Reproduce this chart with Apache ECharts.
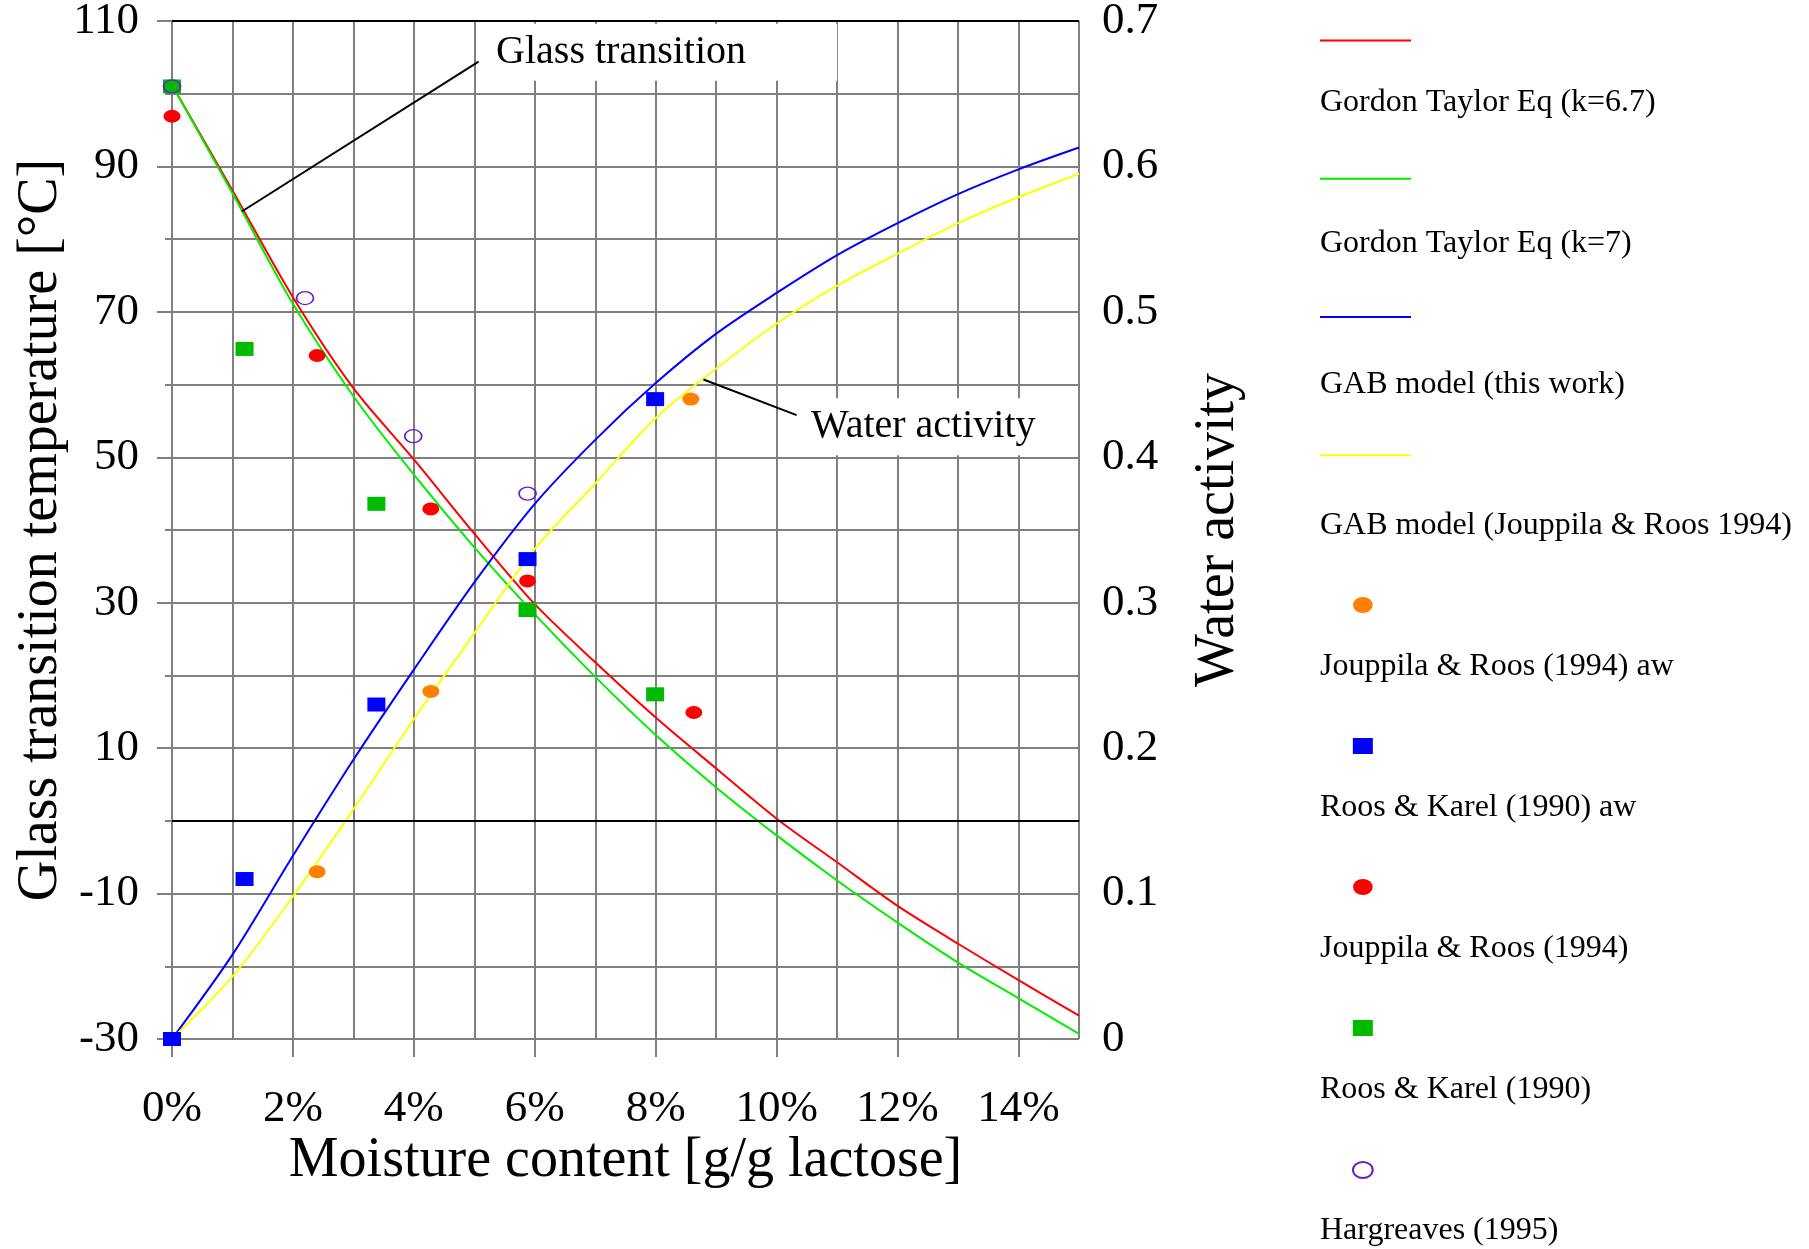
<!DOCTYPE html>
<html lang="en">
<head>
	<meta charset="UTF-8">
	<title>lactose glass transition</title>
	<style>
		body { margin: 0; background: #fff; }
	</style>
</head>
<body>
	<div id="main" style="width: 1809px;height: 1249px"></div>
	<script src="https://cdn.jsdelivr.net/npm/echarts@6.0.0/dist/echarts.min.js"></script>
	<script>
		// moisture content in % (g/g lactose)
		var moisture = [0, 1, 2, 3, 4, 5, 6, 7, 8, 9, 10, 11, 12, 13, 14, 15];
		// model curves
		var gtK67 = [101.2, 86.7, 72.0, 59.5, 49.7, 39.5, 29.8, 21.8, 14.2, 7.2, 0.3, -5.7, -11.7, -16.9, -21.9, -26.8];
		var gtK7 = [101.2, 86.3, 71.1, 58.4, 47.6, 37.6, 28.4, 19.8, 11.8, 4.6, -2.0, -8.2, -14.0, -19.5, -24.4, -29.3];
		var gabThisWork = [0, 0.058, 0.126, 0.192, 0.254, 0.314, 0.368, 0.412, 0.451, 0.485, 0.513, 0.539, 0.561, 0.581, 0.598, 0.613];
		var gabJouppila = [0, 0.043, 0.098, 0.158, 0.220, 0.279, 0.337, 0.382, 0.427, 0.461, 0.492, 0.518, 0.540, 0.561, 0.579, 0.595];

		// measured points
		var jrAwX = [2.40, 4.28, 8.58];
		var jrAwY = [0.115, 0.239, 0.44];
		var rkAwX = [0, 1.20, 3.38, 5.88, 7.99];
		var rkAwY = [0, 0.110, 0.23, 0.33, 0.44];
		var jrTgX = [0, 2.40, 4.28, 5.88, 8.63];
		var jrTgY = [96.9, 64.0, 42.9, 33.0, 14.9];
		var rkTgX = [0, 1.20, 3.38, 5.88, 7.99];
		var rkTgY = [101.0, 64.9, 43.6, 29.0, 17.4];
		var hgX = [0, 2.20, 3.99, 5.88];
		var hgY = [101.0, 71.9, 52.9, 45.0];

		var xTicks = [0, 2, 4, 6, 8, 10, 12, 14];
		var tgTicks = [-30, -10, 10, 30, 50, 70, 90, 110];

		var names = ['Gordon Taylor Eq (k=6.7)', 'Gordon Taylor Eq (k=7)', 'GAB model (this work)',
			'GAB model (Jouppila & Roos 1994)', 'Jouppila & Roos (1994) aw', 'Roos & Karel (1990) aw',
			'Jouppila & Roos (1994)', 'Roos & Karel (1990)', 'Hargreaves (1995)'];

		function pairs(xs, ys) {
			return xs.map(function (x, i) { return [x, ys[i]]; });
		}

		var FONT = 'Liberation Serif';
		var GRID = '#808080';
		var ELLIPSE = 'path://M0,6.5A8,6.5 0 1,0 16,6.5A8,6.5 0 1,0 0,6.5Z';

		var myChart = echarts.init(document.getElementById('main'));

		function curve(name, vals, color, yIdx, extra) {
			var s = {
				name: name,
				type: 'line',
				yAxisIndex: yIdx,
				data: pairs(moisture, vals),
				symbol: 'none',
				showSymbol: false,
				smooth: 0.3,
				lineStyle: { color: color, width: 2 },
				itemStyle: { color: color },
				silent: true,
				z: 3
			};
			return Object.assign(s, extra || {});
		}

		function dots(name, xs, ys, yIdx, symbol, size, style) {
			style.opacity = 1;
			return {
				name: name,
				type: 'scatter',
				yAxisIndex: yIdx,
				data: pairs(xs, ys),
				symbol: symbol,
				symbolSize: size,
				itemStyle: style,
				silent: true,
				z: 4
			};
		}

		var option = {
			animation: false,
			textStyle: { fontFamily: FONT },
			grid: { left: 172, top: 21, right: 730, bottom: 210, containLabel: false, outerBoundsMode: 'none' },
			legend: [{
				// line icons
				data: names.slice(0, 4),
				orient: 'vertical', left: 1319, top: 35, padding: 0,
				itemWidth: 91, itemHeight: 14, itemGap: 127,
				selectedMode: false,
				itemStyle: { color: 'rgba(0,0,0,0)', borderWidth: 0, opacity: 0 },
				formatter: function () { return ''; },
				textStyle: { fontSize: 10, lineHeight: 10 }
			}, {
				// marker icons
				data: names.slice(4).map(function (n) {
					if (n === 'Hargreaves (1995)') {
						return { name: n, itemStyle: { color: '#fff', borderColor: '#6a1ad0', borderWidth: 2 } };
					}
					return n;
				}),
				orient: 'vertical', left: 1352, top: 597, padding: 0,
				itemWidth: 20, itemHeight: 16, itemGap: 125,
				selectedMode: false,
				formatter: function () { return ''; },
				textStyle: { fontSize: 10, lineHeight: 10 }
			}, {
				// texts under the icons
				data: names,
				orient: 'vertical', left: 1315, top: 85, padding: 0,
				itemWidth: 0, itemHeight: 0, itemGap: 105,
				icon: 'rect',
				itemStyle: { color: 'rgba(0,0,0,0)', borderWidth: 0 },
				lineStyle: { color: 'rgba(0,0,0,0)', width: 0 },
				selectedMode: false,
				textStyle: { fontFamily: FONT, fontSize: 32, lineHeight: 36, color: '#000' }
			}],
			xAxis: [{
				type: 'value', min: 0, max: 15, interval: 1,
				name: 'Moisture content [g/g lactose]',
				nameLocation: 'middle', nameGap: 94, nameMoveOverlap: false,
				nameTextStyle: { fontFamily: FONT, fontSize: 56, color: '#000' },
				axisLine: { lineStyle: { color: '#000', width: 2 } },
				axisTick: { length: 13, lineStyle: { color: GRID, width: 2 } },
				axisLabel: { show: false },
				splitLine: { lineStyle: { color: GRID, width: 2 } }
			}, {
				type: 'value', min: 0, max: 15, interval: 2, position: 'bottom',
				axisLine: { show: false },
				axisTick: { length: 18, lineStyle: { color: GRID, width: 2 }, customValues: xTicks },
				axisLabel: {
					customValues: xTicks, margin: 48,
					fontFamily: FONT, fontSize: 45, color: '#000',
					formatter: function (v) { return v + '%'; }
				},
				splitLine: { show: false }
			}],
			yAxis: [{
				type: 'value', min: -30, max: 110, interval: 10, position: 'left',
				name: 'Glass transition temperature [°C]',
				nameLocation: 'middle', nameGap: 103, nameMoveOverlap: false,
				nameTextStyle: { fontFamily: FONT, fontSize: 56, color: '#000' },
				axisLine: { lineStyle: { color: '#000', width: 2 } },
				axisTick: { length: 7, lineStyle: { color: GRID, width: 2 } },
				axisLabel: {
					customValues: tgTicks, margin: 33,
					fontFamily: FONT, fontSize: 45, color: '#000'
				},
				splitLine: { lineStyle: { color: GRID, width: 2 } }
			}, {
				type: 'value', min: 0, max: 0.7, interval: 0.1, position: 'right',
				name: 'Water activity',
				nameLocation: 'middle', nameGap: 111,
				nameTextStyle: { fontFamily: FONT, fontSize: 56, color: '#000' },
				axisLine: { lineStyle: { color: GRID, width: 2 } },
				axisTick: { length: 16, lineStyle: { color: GRID, width: 2 } },
				axisLabel: { margin: 23, fontFamily: FONT, fontSize: 45, color: '#000' },
				splitLine: { show: false }
			}, {
				// longer ticks at the labelled temperatures
				type: 'value', min: 0, max: 0.7, interval: 0.1, position: 'left',
				axisLine: { show: false },
				axisTick: { length: 15, lineStyle: { color: GRID, width: 2 } },
				axisLabel: { show: false },
				splitLine: { show: false }
			}],
			series: [
				curve(names[0], gtK67, '#ff0000', 0, {
					markLine: {
						silent: true, symbol: 'none', label: { show: false },
						lineStyle: { color: '#000', width: 2, type: 'solid' },
						emphasis: { disabled: true },
						data: [
							{ yAxis: 110 },
							{ yAxis: 0 },
							[{ coord: [1.154, 83.8] }, { coord: [5.07, 104.4] }],
							[{ coord: [8.79, 60.7] }, { coord: [10.33, 55.8] }]
						]
					},
					markPoint: {
						silent: true, symbol: 'rect',
						itemStyle: { color: '#fff' },
						label: {
							show: true, position: 'insideLeft', distance: 12,
							fontFamily: FONT, fontSize: 40, color: '#000'
						},
						data: [
							{ coord: [8.08, 105.7], symbolSize: [353, 57], label: { formatter: 'Glass transition' } },
							{ coord: [12.62, 54.2], symbolSize: [270, 57], label: { formatter: 'Water activity', distance: 11 } }
						]
					}
				}),
				curve(names[1], gtK7, '#00ee00', 0),
				curve(names[2], gabThisWork, '#0000ff', 1),
				curve(names[3], gabJouppila, '#ffff00', 1),
				dots(names[4], jrAwX, jrAwY, 1, ELLIPSE, [17, 13], { color: '#ff8000' }),
				dots(names[5], rkAwX, rkAwY, 1, 'rect', [18, 14], { color: '#0000ff' }),
				dots(names[6], jrTgX, jrTgY, 0, ELLIPSE, [17, 13], { color: '#ff0000' }),
				dots(names[7], rkTgX, rkTgY, 0, 'rect', [18, 14], { color: '#00bb00' }),
				dots(names[8], hgX, hgY, 0, ELLIPSE, [17, 13], { color: 'rgba(255,255,255,0)', borderColor: '#6a1ad0', borderWidth: 1.5 })
			]
		};
		myChart.setOption(option);
	</script>
</body>
</html>
